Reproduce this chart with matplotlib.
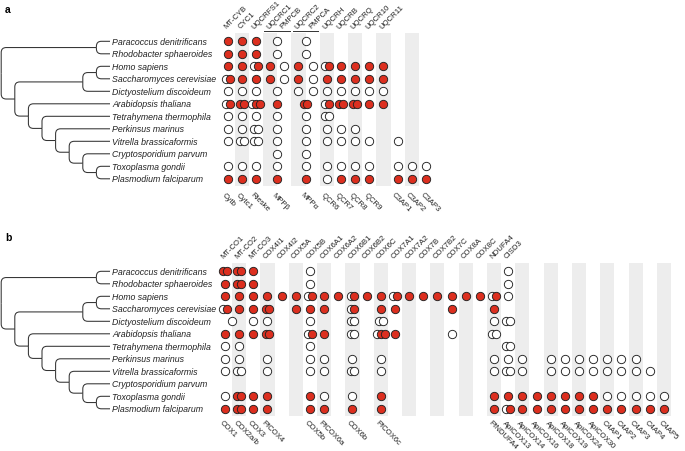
import matplotlib
matplotlib.use("Agg")
import matplotlib.pyplot as plt
from matplotlib.path import Path
from matplotlib.patches import PathPatch

plt.rcParams['font.family'] = ['Liberation Sans', 'DejaVu Sans']

# ---------------- data ----------------
SPECIES = ["Paracoccus denitrificans", "Rhodobacter sphaeroides", "Homo sapiens",
           "Saccharomyces cerevisiae", "Dictyostelium discoideum", "Arabidopsis thaliana",
           "Tetrahymena thermophila", "Perkinsus marinus", "Vitrella brassicaformis",
           "Cryptosporidium parvum", "Toxoplasma gondii", "Plasmodium falciparum"]

TREE = (("Paracoccus denitrificans", "Rhodobacter sphaeroides"),
        ((("Homo sapiens", "Saccharomyces cerevisiae"), "Dictyostelium discoideum"),
         ("Arabidopsis thaliana",
          ("Tetrahymena thermophila",
           ("Perkinsus marinus",
            ("Vitrella brassicaformis",
             ("Cryptosporidium parvum",
              ("Toxoplasma gondii", "Plasmodium falciparum"))))))))

# panel a (complex III)
A_TOP = ["MT-CYB", "CYC1", "UQCRFS1", "UQCRC1", "PMPCB", "UQCRC2", "PMPCA",
         "UQCRH", "UQCRB", "UQCRQ", "UQCR10", "UQCR11"]
A_BOTTOM = ["Cytb", "Cytc1", "Rieske", "MPPβ", "MPPα", "QCR6", "QCR7", "QCR8",
            "QCR9", "C3AP1", "C3AP2", "C3AP3"]
A_BOTTOM_COL = [0, 1, 2, 3.5, 5.5, 7, 8, 9, 10, 12, 13, 14]
A_NCOL = 15
A_UNDERLINE = [(3.5, 0.92), (5.5, 0.88)]
# column:code  (F filled, O open; several letters = overlapping circles)
A_ROWS = [
    "0:F 1:F 2:F 3.5:O 5.5:O",
    "0:F 1:F 2:F 3.5:O 5.5:O",
    "0:F 1:F 2:OF 3:F 4:O 5:F 6:O 7:OF 8:F 9:F 10:F 11:F",
    "0:OF 1:F 2:F 3:F 4:O 5:F 6:O 7:F 8:F 9:F 10:F 11:F",
    "0:O 1:O 2:O 3.5:O 5:O 6:O 7:O 8:O 9:O 10:O 11:O",
    "0:OF 1:FF 2:OFF 3.5:F 5.5:FF 7:OF 8:FF 9:FF 10:F 11:F",
    "0:O 1:O 2:O 3.5:O 5.5:O 7:OO",
    "0:O 1:O 2:OO 3.5:O 5.5:O 7:O 8:O 9:O",
    "0:O 1:OO 2:OO 3.5:O 5.5:O 7:O 8:O 9:O 10:O 12:O",
    "3.5:O 5.5:O",
    "0:O 1:O 2:O 3.5:O 5.5:O 7:O 8:O 9:O 10:O 12:O 13:O 14:O",
    "0:F 1:F 2:F 3.5:F 5.5:F 7:O 8:F 9:F 10:F 12:F 13:F 14:F",
]

# panel b (complex IV)
B_TOP = ["MT-CO1", "MT-CO2", "MT-CO3", "COX4I1", "COX4I2", "COX5A", "COX5B",
         "COX6A1", "COX6A2", "COX6B1", "COX6B2", "COX6C", "COX7A1", "COX7A2",
         "COX7B", "COX7B2", "COX7C", "COX8A", "COX8C", "NDUFA4", "CISD3"]
B_BOTTOM = ["COX1", "COX2a/b", "COX3", "PfCOX4", "COX5b", "PfCOX6a", "COX6b",
            "PfCOX6c", "PfNDUFA4", "ApiCOX13", "ApiCOX14", "ApiCOX16", "ApiCOX18",
            "ApiCOX19", "ApiCOX24", "ApiCOX30", "C4AP1", "C4AP2", "C4AP3", "C4AP4",
            "C4AP5"]
B_BOTTOM_COL = [0, 1, 2, 3, 6, 7, 9, 11, 19, 20, 21, 22, 23, 24, 25, 26, 27, 28,
                29, 30, 31]
B_NCOL = 32
B_ROWS = [
    "0:FF 1:FF 2:F 6:O 20:O",
    "0:F 1:FF 2:F 6:O 20:O",
    "0:F 1:F 2:F 3:F 4:F 5:F 6:OF 7:F 8:F 9:OF 10:F 11:F 12:OF 13:F 14:F 15:F "
    "16:F 17:F 18:F 19:OF 20:O",
    "0:OF 1:F 2:F 3:FF 5:F 6:F 7:F 9:OF 11:F 12:F 16:F 19:F",
    "0.5:O 2:O 3:O 6:O 9:OO 11:OO 19:O 20:OO",
    "0:F 1:F 2:F 3:FF 6:OF 7:F 9:OO 11:OFF 12:F 16:O 19:OO",
    "0:O 1:O 6:O 20:OO",
    "0:O 1:O 3:O 6:O 7:O 9:O 11:O 19:O 20:O 21:O 23:O 24:O 25:O 26:O 27:O 28:O 29:O",
    "0:O 1:OO 3:O 6:O 7:O 9:OO 11:O 19:O 20:OO 21:O 23:O 24:O 25:O 26:O 27:O "
    "28:O 29:O 30:O",
    "",
    "0:O 1:FF 2:F 3:F 6:F 7:O 9:O 11:F 19:F 20:F 21:F 22:F 23:F 24:F 25:F 26:F "
    "27:O 28:O 29:O 30:O 31:O",
    "0:F 1:FF 2:F 3:F 6:F 7:F 9:F 11:F 19:F 20:OF 21:F 22:F 23:F 24:F 25:F 26:F "
    "27:F 28:F 29:F 30:F 31:F",
]

# ---------------- style / layout ----------------
W, H, DPI = 685, 452, 100
RED = "#DC2F1F"
BAND = "#EDEDED"
EDGE = "#222222"
TXT = "#222222"
MS, MEW = 6.0, 0.65
SEP = 0.27
ROW_PX = 12.5
PITCH = 14.16
TIP, STEP = 110.0, 13.6
LABEL_X = 112.5
GENE_FS = 5.6

fig = plt.figure(figsize=(W / DPI, H / DPI), dpi=DPI)


def parse(s):
    out = []
    for tok in s.split():
        c, code = tok.split(":")
        out.append((float(c), code))
    return out


def layout(node):
    if isinstance(node, str):
        return {"name": node, "h": 0, "y": SPECIES.index(node), "kids": []}
    kids = [layout(k) for k in node]
    return {"h": 1 + max(k["h"] for k in kids),
            "y": (kids[0]["y"] + kids[-1]["y"]) / 2.0, "kids": kids}


def branch(ax, xp, yp, xc, yc, rx=5.0, ry=0.4):
    dy = yc - yp
    s = 1 if dy > 0 else -1
    ry = min(ry, abs(dy))
    rx = min(rx, xc - xp)
    verts = [(xp, yp), (xp, yc - s * ry), (xp, yc), (xp + rx, yc), (xc, yc)]
    codes = [Path.MOVETO, Path.LINETO, Path.CURVE3, Path.CURVE3, Path.LINETO]
    ax.add_patch(PathPatch(Path(verts, codes), fill=False, lw=0.75, ec="#333333",
                           capstyle="butt"))


def draw_tree(ax, node):
    x = TIP - STEP * node["h"]
    for k in node["kids"]:
        xk = TIP - STEP * k["h"]
        branch(ax, x, node["y"], xk, k["y"])
        draw_tree(ax, k)


def panel(row0_px, x0_px, ncol, top_labels, bottom_labels, bottom_cols,
          rows, underlines, ylo, yhi, bottom_y):
    left_px = x0_px - 0.5 * PITCH
    width_px = ncol * PITCH
    ax_top_px = row0_px + ylo * ROW_PX
    ax_bot_px = row0_px + yhi * ROW_PX
    ax = fig.add_axes([left_px / W, 1 - ax_bot_px / H, width_px / W,
                       (ax_bot_px - ax_top_px) / H])
    ax.set_xlim(-0.5, ncol - 0.5)
    ax.set_ylim(yhi, ylo)
    ax.axis("off")
    for i in range(1, ncol, 2):
        ax.axvspan(i - 0.5, i + 0.5, color=BAND, lw=0, zorder=0)
    for r, s in enumerate(rows):
        for c, code in parse(s):
            n = len(code)
            for i, ch in enumerate(code):
                dx = (i - (n - 1) / 2.0) * SEP
                ax.plot(c + dx, r, "o", ms=MS, mfc=RED if ch == "F" else "white",
                        mec=EDGE, mew=MEW, zorder=3 + i, clip_on=False)
    for i, lab in enumerate(top_labels):
        ax.text(i - 0.12, -1.05, lab, rotation=45, rotation_mode="anchor",
                ha="left", va="baseline", fontsize=GENE_FS, color=TXT,
                clip_on=False)
    for c, lab in zip(bottom_cols, bottom_labels):
        ax.text(c - 0.15, bottom_y, lab, rotation=-45, rotation_mode="anchor",
                ha="left", va="top", fontsize=GENE_FS, color=TXT, clip_on=False)
    for c, hw in underlines:
        ax.plot([c - hw, c + hw], [-0.8, -0.8], color="#333333", lw=0.7,
                clip_on=False)

    # tree axes
    axt = fig.add_axes([0, 1 - ax_bot_px / H, left_px / W,
                        (ax_bot_px - ax_top_px) / H])
    axt.set_xlim(0, left_px)
    axt.set_ylim(yhi, ylo)
    axt.axis("off")
    draw_tree(axt, layout(TREE))
    for r, sp in enumerate(SPECIES):
        axt.text(LABEL_X, r, sp, style="italic", fontsize=6.3, color=TXT,
                 va="center", ha="left", clip_on=False)


panel(42.3, 227.7, A_NCOL, A_TOP, A_BOTTOM, A_BOTTOM_COL, A_ROWS,
      A_UNDERLINE, -0.66, 11.56, 11.95)
panel(272.3, 225.0, B_NCOL, B_TOP, B_BOTTOM, B_BOTTOM_COL, B_ROWS,
      [], -0.66, 11.58, 11.8)

fig.text(5 / W, 1 - 10 / H, "a", fontsize=7.5, fontweight="bold", va="center",
         ha="left", color="black")
fig.text(5 / W, 1 - 238 / H, "b", fontsize=7.5, fontweight="bold", va="center",
         ha="left", color="black")

fig.savefig("out.png", dpi=DPI)
